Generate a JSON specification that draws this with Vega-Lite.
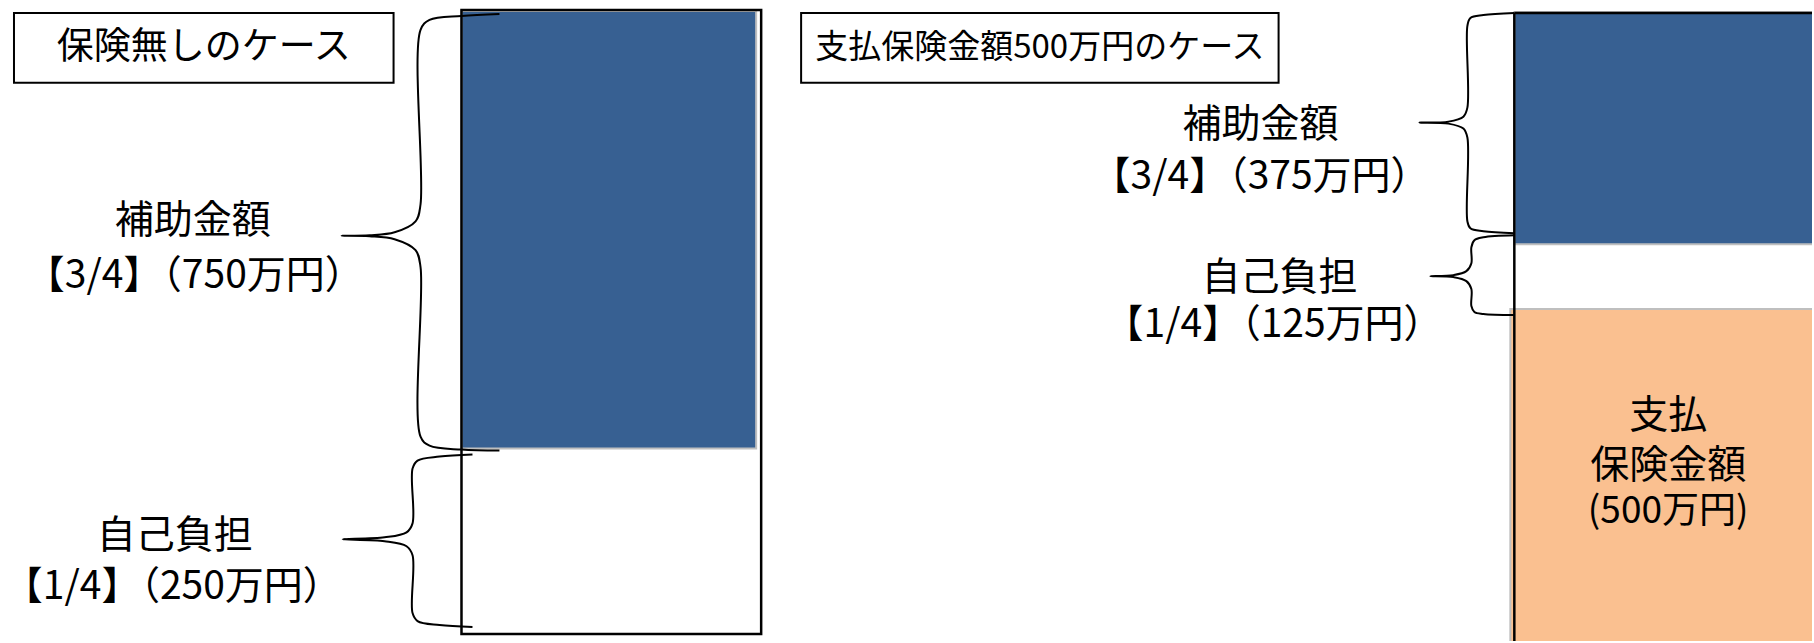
{
  "$schema": "https://vega.github.io/schema/vega-lite/v6.json",
  "width": 1814,
  "height": 643,
  "padding": 0,
  "autosize": {"type": "fit", "contains": "padding"},
  "background": "white",
  "config": {"view": {"stroke": null}, "text": {"font": "Noto Sans CJK JP"}},
  "datasets": {
    "segments": [
      {"case": "保険無し", "part": "補助金額", "x0": 462, "x1": 757, "y0": 11, "y1": 450},
      {"case": "支払保険金額500万円", "part": "補助金額", "x0": 1516, "x1": 1830, "y0": 12, "y1": 245},
      {"case": "支払保険金額500万円", "part": "支払保険金額", "x0": 1512, "x1": 1830, "y0": 310, "y1": 660}
    ],
    "frames": [
      {"case": "保険無し", "x0": 462, "x1": 762, "y0": 10, "y1": 636}
    ],
    "rules": [
      {"case": "支払保険金額500万円", "x0": 1516, "x1": 1516, "y0": 13, "y1": 643},
      {"case": "支払保険金額500万円", "x0": 1516, "x1": 1814, "y0": 13, "y1": 13}
    ],
    "boxes": [
      {"title": "保険無しのケース", "x0": 14, "x1": 394, "y0": 13, "y1": 83},
      {"title": "支払保険金額500万円のケース", "x0": 802, "x1": 1280, "y0": 13, "y1": 83}
    ],
    "braces": [
      {"brace": "L1", "i": 1, "x": 500, "y": 14},
      {"brace": "L1", "i": 2, "x": 462, "y": 16},
      {"brace": "L1", "i": 3, "x": 430, "y": 20},
      {"brace": "L1", "i": 4, "x": 421, "y": 30},
      {"brace": "L1", "i": 5, "x": 421, "y": 205},
      {"brace": "L1", "i": 6, "x": 416, "y": 222},
      {"brace": "L1", "i": 7, "x": 395, "y": 233},
      {"brace": "L1", "i": 8, "x": 370, "y": 236},
      {"brace": "L1", "i": 9, "x": 342, "y": 236.5},
      {"brace": "L1", "i": 10, "x": 370, "y": 237},
      {"brace": "L1", "i": 11, "x": 395, "y": 240},
      {"brace": "L1", "i": 12, "x": 416, "y": 251},
      {"brace": "L1", "i": 13, "x": 421, "y": 268},
      {"brace": "L1", "i": 14, "x": 421, "y": 438},
      {"brace": "L1", "i": 15, "x": 430, "y": 447},
      {"brace": "L1", "i": 16, "x": 462, "y": 451},
      {"brace": "L1", "i": 17, "x": 500, "y": 452},
      {"brace": "L2", "i": 1, "x": 473, "y": 456},
      {"brace": "L2", "i": 2, "x": 440, "y": 458},
      {"brace": "L2", "i": 3, "x": 418, "y": 462},
      {"brace": "L2", "i": 4, "x": 413, "y": 470},
      {"brace": "L2", "i": 5, "x": 413, "y": 525},
      {"brace": "L2", "i": 6, "x": 407, "y": 534},
      {"brace": "L2", "i": 7, "x": 385, "y": 539},
      {"brace": "L2", "i": 8, "x": 343, "y": 541},
      {"brace": "L2", "i": 9, "x": 385, "y": 543},
      {"brace": "L2", "i": 10, "x": 407, "y": 548},
      {"brace": "L2", "i": 11, "x": 413, "y": 557},
      {"brace": "L2", "i": 12, "x": 413, "y": 615},
      {"brace": "L2", "i": 13, "x": 418, "y": 623},
      {"brace": "L2", "i": 14, "x": 440, "y": 627},
      {"brace": "L2", "i": 15, "x": 473, "y": 629},
      {"brace": "R1", "i": 1, "x": 1516, "y": 13},
      {"brace": "R1", "i": 2, "x": 1485, "y": 15},
      {"brace": "R1", "i": 3, "x": 1472, "y": 18},
      {"brace": "R1", "i": 4, "x": 1469, "y": 26},
      {"brace": "R1", "i": 5, "x": 1469, "y": 108},
      {"brace": "R1", "i": 6, "x": 1465, "y": 117},
      {"brace": "R1", "i": 7, "x": 1450, "y": 122},
      {"brace": "R1", "i": 8, "x": 1421, "y": 123},
      {"brace": "R1", "i": 9, "x": 1450, "y": 124},
      {"brace": "R1", "i": 10, "x": 1465, "y": 129},
      {"brace": "R1", "i": 11, "x": 1469, "y": 138},
      {"brace": "R1", "i": 12, "x": 1469, "y": 222},
      {"brace": "R1", "i": 13, "x": 1472, "y": 229},
      {"brace": "R1", "i": 14, "x": 1485, "y": 232},
      {"brace": "R1", "i": 15, "x": 1516, "y": 234},
      {"brace": "R2", "i": 1, "x": 1516, "y": 236},
      {"brace": "R2", "i": 2, "x": 1485, "y": 238},
      {"brace": "R2", "i": 3, "x": 1476, "y": 241},
      {"brace": "R2", "i": 4, "x": 1473, "y": 248},
      {"brace": "R2", "i": 5, "x": 1473, "y": 264},
      {"brace": "R2", "i": 6, "x": 1468, "y": 272},
      {"brace": "R2", "i": 7, "x": 1455, "y": 276},
      {"brace": "R2", "i": 8, "x": 1432, "y": 277},
      {"brace": "R2", "i": 9, "x": 1455, "y": 278},
      {"brace": "R2", "i": 10, "x": 1468, "y": 282},
      {"brace": "R2", "i": 11, "x": 1473, "y": 290},
      {"brace": "R2", "i": 12, "x": 1473, "y": 307},
      {"brace": "R2", "i": 13, "x": 1476, "y": 313},
      {"brace": "R2", "i": 14, "x": 1485, "y": 315},
      {"brace": "R2", "i": 15, "x": 1516, "y": 316}
    ],
    "texts": [
      {"text": "保険無しのケース", "kind": "title", "x": 204, "y": 48},
      {"text": "支払保険金額500万円のケース", "kind": "title2", "x": 1041, "y": 48},
      {"text": "補助金額", "kind": "label", "x": 193, "y": 222},
      {"text": "【3/4】（750万円）", "kind": "label", "x": 195, "y": 277},
      {"text": "自己負担", "kind": "label", "x": 175, "y": 538},
      {"text": "【1/4】（250万円）", "kind": "label", "x": 173, "y": 589},
      {"text": "補助金額", "kind": "label", "x": 1262, "y": 125},
      {"text": "【3/4】（375万円）", "kind": "label", "x": 1262, "y": 178},
      {"text": "自己負担", "kind": "label", "x": 1281, "y": 279},
      {"text": "【1/4】（125万円）", "kind": "label", "x": 1275, "y": 326},
      {"text": "支払", "kind": "label", "x": 1670, "y": 417},
      {"text": "保険金額", "kind": "label", "x": 1670, "y": 467},
      {"text": "(500万円)", "kind": "small", "x": 1670, "y": 514}
    ]
  },
  "layer": [
    {
      "data": {"name": "segments"},
      "mark": {"type": "rect", "stroke": "#BFBFBF", "strokeWidth": 2, "clip": true},
      "encoding": {
        "x": {"field": "x0", "type": "quantitative", "scale": {"domain": [0, 1814], "nice": false, "zero": false}, "axis": null},
        "x2": {"field": "x1"},
        "y": {"field": "y0", "type": "quantitative", "scale": {"domain": [0, 643], "nice": false, "zero": false, "reverse": true}, "axis": null},
        "y2": {"field": "y1"},
        "color": {"field": "part", "type": "nominal", "scale": {"domain": ["補助金額", "支払保険金額"], "range": ["#376092", "#FAC090"]}, "legend": null}
      }
    },
    {
      "data": {"name": "frames"},
      "mark": {"type": "rect", "fill": "white", "fillOpacity": 0, "stroke": "black", "strokeWidth": 2.5},
      "encoding": {
        "x": {"field": "x0", "type": "quantitative", "axis": null},
        "x2": {"field": "x1"},
        "y": {"field": "y0", "type": "quantitative", "axis": null},
        "y2": {"field": "y1"}
      }
    },
    {
      "data": {"name": "rules"},
      "mark": {"type": "rule", "color": "black", "strokeWidth": 2.5},
      "encoding": {
        "x": {"field": "x0", "type": "quantitative", "axis": null},
        "x2": {"field": "x1"},
        "y": {"field": "y0", "type": "quantitative", "axis": null},
        "y2": {"field": "y1"}
      }
    },
    {
      "data": {"name": "boxes"},
      "mark": {"type": "rect", "fill": "white", "stroke": "black", "strokeWidth": 2},
      "encoding": {
        "x": {"field": "x0", "type": "quantitative", "axis": null},
        "x2": {"field": "x1"},
        "y": {"field": "y0", "type": "quantitative", "axis": null},
        "y2": {"field": "y1"}
      }
    },
    {
      "data": {"name": "braces"},
      "mark": {"type": "line", "interpolate": "catmull-rom", "color": "black", "strokeWidth": 2},
      "encoding": {
        "x": {"field": "x", "type": "quantitative", "axis": null},
        "y": {"field": "y", "type": "quantitative", "axis": null},
        "detail": {"field": "brace", "type": "nominal"},
        "order": {"field": "i", "type": "quantitative"}
      }
    },
    {
      "data": {"name": "texts"},
      "transform": [{"filter": "datum.kind === 'title'"}],
      "mark": {"type": "text", "align": "center", "baseline": "middle", "color": "black", "font": "Noto Sans CJK JP", "fontSize": 37},
      "encoding": {
        "x": {"field": "x", "type": "quantitative", "axis": null},
        "y": {"field": "y", "type": "quantitative", "axis": null},
        "text": {"field": "text", "type": "nominal"}
      }
    },
    {
      "data": {"name": "texts"},
      "transform": [{"filter": "datum.kind === 'title2'"}],
      "mark": {"type": "text", "align": "center", "baseline": "middle", "color": "black", "font": "Noto Sans CJK JP", "fontSize": 33},
      "encoding": {
        "x": {"field": "x", "type": "quantitative", "axis": null},
        "y": {"field": "y", "type": "quantitative", "axis": null},
        "text": {"field": "text", "type": "nominal"}
      }
    },
    {
      "data": {"name": "texts"},
      "transform": [{"filter": "datum.kind === 'label'"}],
      "mark": {"type": "text", "align": "center", "baseline": "middle", "color": "black", "font": "Noto Sans CJK JP", "fontSize": 39},
      "encoding": {
        "x": {"field": "x", "type": "quantitative", "axis": null},
        "y": {"field": "y", "type": "quantitative", "axis": null},
        "text": {"field": "text", "type": "nominal"}
      }
    },
    {
      "data": {"name": "texts"},
      "transform": [{"filter": "datum.kind === 'small'"}],
      "mark": {"type": "text", "align": "center", "baseline": "middle", "color": "black", "font": "Noto Sans CJK JP", "fontSize": 37},
      "encoding": {
        "x": {"field": "x", "type": "quantitative", "axis": null},
        "y": {"field": "y", "type": "quantitative", "axis": null},
        "text": {"field": "text", "type": "nominal"}
      }
    }
  ]
}
